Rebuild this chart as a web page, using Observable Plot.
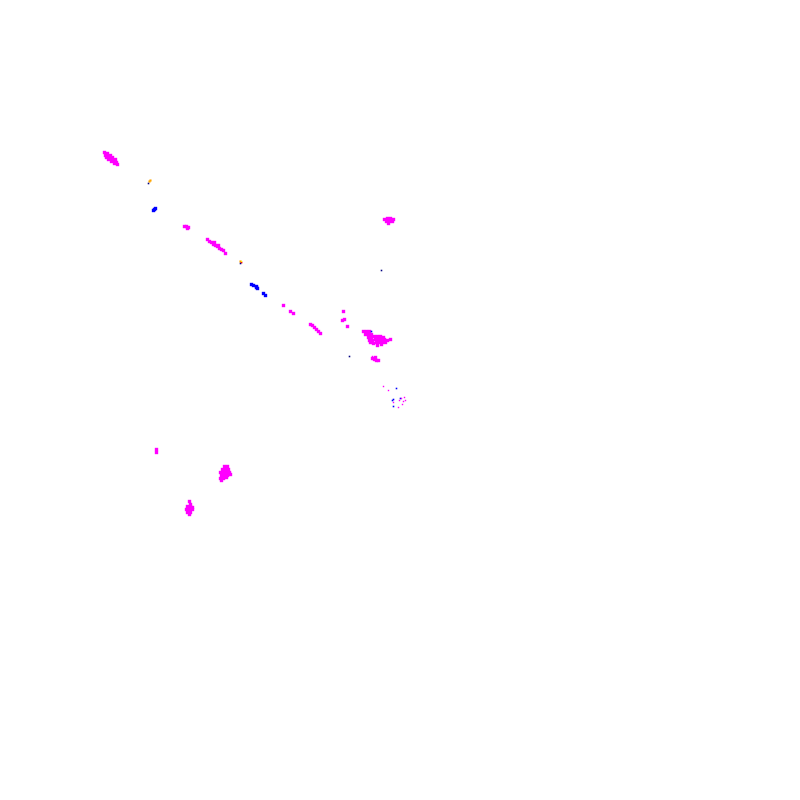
<!DOCTYPE html>
<html><head><meta charset="utf-8">
<script src="https://cdn.jsdelivr.net/npm/d3@7"></script>
<script src="https://cdn.jsdelivr.net/npm/@observablehq/plot@0.6"></script>
<style>body{margin:0;background:#fff}</style>
</head><body><div id="chart"></div>
<script>
// Point positions (plot units, 0-800 each way)
const magentaPts = [
  [104,152],[105,155],[107,153],[108,156],[108,159],[110,155],[110,158],[111,161],[112,157],[113,160],[114,163],[115,159],[116,162],[117,164],[106,157],
  [184,226],[187,228],[186,226],[188,227],
  [207,239],[209,241],[211,242],[213,244],[215,245],[217,246],[219,248],[221,249],[223,250],[225,253],[218,245],[214,242],
  [283,305],[290,311],[293,313],
  [310,324],[312,325],[314,327],[316,329],[318,331],[320,333],
  [343,311],[342,320],[344,319],[347,326],
  [363,331],[366,331],[369,331],[365,334],[368,334],[371,334],[368,337],[371,337],[374,336],[377,336],[380,336],[383,337],
  [369,340],[372,340],[375,339],[378,339],[381,339],[384,339],[387,340],[390,339],
  [370,342],[373,343],[376,342],[379,342],[382,342],[385,342],[377,345],[381,344],
  [372,358],[374,359],[376,360],[378,360],[375,357],
  [384,219],[387,218],[390,218],[393,219],[386,221],[389,221],[392,221],[388,223],
  [156,449],[156,452],
  [224,466],[227,466],[222,469],[225,469],[228,469],[220,472],[223,472],[226,472],[229,472],[221,475],[224,475],[227,475],[230,474],
  [220,478],[223,478],[226,477],[221,480],
  [189,501],[190,504],[187,506],[190,506],[192,507],[186,509],[189,509],[192,509],[187,512],[190,512],[189,514]
];
const tinyMagentaPts = [
  [383,386],[388,390],[372,356],[399,400],[401,398],[403,401],[405,400],[398,407],[393,402],[402,404],[404,397]
];
const bluePts = [
  [153,210],[155,208],[154,209],
  [251,284],[253,285],[256,287],[257,288],[263,293],[265,295],[256,286]
];
const tinyBluePts = [[371,331],[396,388],[392,400],[393,406],[400,398],[393,399]];
const navyPts = [[381,270],[349,356],[148,183],[240,263]];
const orangePts = [[149,181],[150,180],[240,261]];
const redPts = [[241,262]];
const yellowPts = [[241,261]];

const groups = [
  ["magenta", magentaPts, 1.9], ["magenta", tinyMagentaPts, 0.8],
  ["blue", bluePts, 1.9], ["blue", tinyBluePts, 0.9],
  ["navy", navyPts, 0.9], ["orange", orangePts, 1.2],
  ["red", redPts, 1.0], ["yellow", yellowPts, 0.7]
];
const rows = groups.flatMap(([g, pts, s]) => pts.map(([x, y]) => ({x, y, g, s})));

const chart = Plot.plot({
  width: 800, height: 800,
  margin: 0,
  x: {domain: [0, 800], axis: null},
  y: {domain: [800, 0], axis: null},
  r: {type: "identity"},
  color: {domain: ["magenta","blue","navy","orange","red","yellow"],
          range: ["#ff00ff","#0000ff","#00008b","#ff8c00","#ff0000","#ffd700"]},
  marks: [
    Plot.dot(rows, {x: "x", y: "y", fill: "g", symbol: "square", r: "s", stroke: null})
  ]
});
document.getElementById("chart").appendChild(chart);
</script></body></html>
